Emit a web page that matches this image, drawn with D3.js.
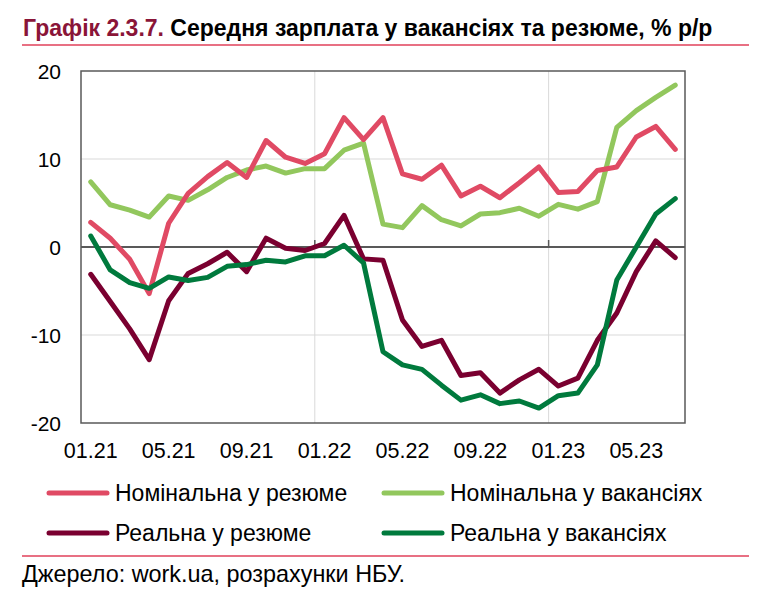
<!DOCTYPE html>
<html>
<head>
<meta charset="utf-8">
<script src="https://cdn.jsdelivr.net/npm/d3@7"></script>
<style>
  body { margin: 0; background: #fff; }
  text { font-family: "Liberation Sans", Arial, sans-serif; }
</style>
</head>
<body>
<div class="chart"></div>
<script>
// monthly labels, Jan 2021 .. Jul 2023
var months = ["01.21","02.21","03.21","04.21","05.21","06.21","07.21","08.21","09.21","10.21","11.21","12.21",
              "01.22","02.22","03.22","04.22","05.22","06.22","07.22","08.22","09.22","10.22","11.22","12.22",
              "01.23","02.23","03.23","04.23","05.23","06.23","07.23"];
var xTickLabels = ["01.21","05.21","09.21","01.22","05.22","09.22","01.23","05.23"];
var yTicks = [-20, -10, 0, 10, 20];

var nomResume = [2.8, 1.0, -1.4, -5.3, 2.7, 6.1, 8.0, 9.6, 7.9, 12.1, 10.2, 9.5, 10.6, 14.7, 12.2, 14.7,
                 8.3, 7.7, 9.3, 5.8, 6.9, 5.6, 7.3, 9.1, 6.2, 6.3, 8.7, 9.1, 12.5, 13.7, 11.1];
var nomVac = [7.4, 4.8, 4.2, 3.4, 5.8, 5.3, 6.5, 7.9, 8.75, 9.2, 8.4, 8.9, 8.9, 11.0, 11.8, 2.6,
              2.2, 4.7, 3.1, 2.4, 3.75, 3.9, 4.4, 3.5, 4.85, 4.3, 5.15, 13.6, 15.5, 17.0, 18.4];
var realResume = [-3.1, -6.2, -9.3, -12.8, -6.1, -3.0, -1.9, -0.6, -2.8, 1.0, -0.15, -0.4, 0.4, 3.6, -1.35, -1.5,
                  -8.3, -11.3, -10.6, -14.6, -14.3, -16.6, -15.1, -13.9, -15.8, -14.9, -10.6, -7.5, -2.8, 0.7, -1.2];
var realVac = [1.25, -2.6, -4.05, -4.7, -3.4, -3.8, -3.45, -2.2, -2.0, -1.5, -1.7, -1.0, -1.0, 0.2, -1.8, -11.9,
               -13.4, -13.9, -15.7, -17.4, -16.8, -17.8, -17.5, -18.3, -16.9, -16.6, -13.4, -3.75, 0.0, 3.75, 5.5];

var seriesNames = ["Номінальна у резюме", "Номінальна у вакансіях", "Реальна у резюме", "Реальна у вакансіях"];

var series = [
  { name: seriesNames[0], values: nomResume, color: "#e04a64" },
  { name: seriesNames[1], values: nomVac, color: "#92c75d" },
  { name: seriesNames[2], values: realResume, color: "#7a0030" },
  { name: seriesNames[3], values: realVac, color: "#007a3d" }
];
// draw order (light green under pink, real green on top)
var drawOrder = [1, 0, 2, 3];

var svgWidth = 764, svgHeight = 595;
var margin = { top: 71, left: 81, right: 79, bottom: 172 };
var width = svgWidth - margin.left - margin.right;
var height = svgHeight - margin.top - margin.bottom;

var svg = d3.select(".chart").append("svg")
  .attr("width", svgWidth)
  .attr("height", svgHeight);

// title
var title = svg.append("text")
  .attr("x", 23)
  .attr("y", 36)
  .style("font-size", "23px")
  .style("font-weight", "bold");
title.append("tspan").attr("fill", "#8a1538").text("Графік 2.3.7.");
title.append("tspan").attr("fill", "#000").text(" Середня зарплата у вакансіях та резюме, % р/р");

svg.append("line")
  .attr("x1", 22).attr("x2", 749)
  .attr("y1", 45).attr("y2", 45)
  .attr("stroke", "#e0405a").attr("stroke-width", 1.5);

var chartGroup = svg.append("g")
  .attr("transform", `translate(${margin.left}, ${margin.top})`);

var xScale = d3.scaleBand().domain(months).range([0, width]).padding(0);
var yScale = d3.scaleLinear().domain([-20, 20]).range([height, 0]);
var xc = d => xScale(d) + xScale.bandwidth() / 2;

// grid
chartGroup.selectAll(".hgrid")
  .data(yTicks.filter(d => d === 10 || d === -10))
  .enter().append("line")
  .attr("x1", 0).attr("x2", width)
  .attr("y1", d => yScale(d)).attr("y2", d => yScale(d))
  .attr("stroke", "#d9d9d9").attr("stroke-width", 1);

chartGroup.selectAll(".vgrid")
  .data(["01.22", "01.23"])
  .enter().append("line")
  .attr("x1", d => xScale(d)).attr("x2", d => xScale(d))
  .attr("y1", 0).attr("y2", height)
  .attr("stroke", "#d9d9d9").attr("stroke-width", 1);

// frame
chartGroup.append("rect")
  .attr("width", width).attr("height", height)
  .attr("fill", "none").attr("stroke", "#595959").attr("stroke-width", 1.5);

// zero axis with ticks
chartGroup.append("line")
  .attr("x1", 0).attr("x2", width)
  .attr("y1", yScale(0)).attr("y2", yScale(0))
  .attr("stroke", "#595959").attr("stroke-width", 2);
chartGroup.selectAll(".ztick")
  .data(["01.22", "01.23"])
  .enter().append("line")
  .attr("x1", d => xScale(d)).attr("x2", d => xScale(d))
  .attr("y1", yScale(0)).attr("y2", yScale(0) - 7)
  .attr("stroke", "#595959").attr("stroke-width", 1.5);

// y labels
chartGroup.selectAll(".ylab")
  .data(yTicks)
  .enter().append("text")
  .attr("x", -20)
  .attr("y", d => yScale(d))
  .attr("dy", "0.36em")
  .attr("text-anchor", "end")
  .style("font-size", "21px")
  .text(d => d);

// x labels
chartGroup.selectAll(".xlab")
  .data(xTickLabels)
  .enter().append("text")
  .attr("x", d => xc(d))
  .attr("y", height + 35)
  .attr("text-anchor", "middle")
  .style("font-size", "21.5px")
  .text(d => d);

// lines
var line = d3.line()
  .x((d, i) => xc(months[i]))
  .y(d => yScale(d));

drawOrder.forEach(function(k) {
  chartGroup.append("path")
    .datum(series[k].values)
    .attr("d", line)
    .attr("fill", "none")
    .attr("stroke", series[k].color)
    .attr("stroke-width", 5)
    .attr("stroke-linejoin", "round")
    .attr("stroke-linecap", "round");
});

// legend
var legendPos = [
  { x: 47, y: 493 }, { x: 382, y: 493 },
  { x: 47, y: 533 }, { x: 382, y: 533 }
];
series.forEach(function(s, i) {
  var p = legendPos[i];
  svg.append("line")
    .attr("x1", p.x + 2).attr("x2", p.x + 60)
    .attr("y1", p.y).attr("y2", p.y)
    .attr("stroke", s.color).attr("stroke-width", 5)
    .attr("stroke-linecap", "round");
  svg.append("text")
    .attr("x", p.x + 68)
    .attr("y", p.y)
    .attr("dy", "0.36em")
    .style("font-size", "23px")
    .text(s.name);
});

svg.append("line")
  .attr("x1", 22).attr("x2", 749)
  .attr("y1", 556).attr("y2", 556)
  .attr("stroke", "#e0405a").attr("stroke-width", 1.5);

svg.append("text")
  .attr("x", 22)
  .attr("y", 582)
  .style("font-size", "23.4px")
  .text("Джерело: work.ua, розрахунки НБУ.");
</script>
</body>
</html>
